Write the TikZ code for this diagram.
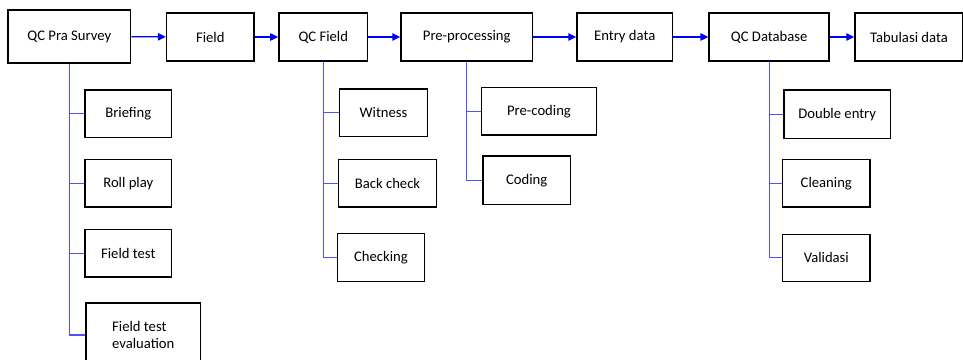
\documentclass[tikz,border=0pt]{standalone}
\usepackage{fontspec}
\setmainfont{Carlito}
\usepackage{xcolor}
\usetikzlibrary{arrows.meta}

\definecolor{flowblue}{RGB}{0,0,255}
\definecolor{branchblue}{RGB}{80,80,255}

\begin{document}
\begin{tikzpicture}[
    x=0.75pt, y=-0.75pt,
    stage/.style={draw, line width=1.1pt, inner sep=0pt, minimum height=36pt, font=\fontsize{11}{12.5}\selectfont},
    task/.style={draw, line width=1.1pt, inner sep=0pt, minimum height=35.5pt, font=\fontsize{11}{12.5}\selectfont},
    flow/.style={line width=1pt, flowblue, -{Triangle[length=6pt, width=5.5pt]}},
    branch/.style={line width=0.8pt, branchblue},
]
\clip (0,0) rectangle (963,360);

% Main stages
\node[stage, minimum width=92pt, minimum height=39.5pt] (pra) at (69.3, 36.5) {QC Pra Survey};
\node[stage, minimum width=65.5pt] (field) at (210.3, 37) {Field};
\node[stage, minimum width=66.5pt] (qcfield) at (323.3, 37) {QC Field};
\node[stage, minimum width=98.5pt] (prep) at (466.7, 37) {Pre-processing};
\node[stage, minimum width=71.5pt] (entry) at (624.7, 37) {Entry data};
\node[stage, minimum width=90pt] (qcdb) at (769.2, 37) {QC Database};
\node[stage, minimum width=81pt] (tabul) at (909, 37) {Tabulasi data};

% Tasks under QC Pra Survey
\node[task, minimum width=65pt] (briefing) at (128.3, 113.8) {Briefing};
\node[task, minimum width=65pt] (rollplay) at (128.3, 183.2) {Roll play};
\node[task, minimum width=65pt] (fieldtest) at (128.3, 253.2) {Field test};
\node[task, minimum width=86pt, minimum height=48pt, align=left] (fieldeval) at (143.3, 335) {Field test\\evaluation};

% Tasks under QC Field
\node[task, minimum width=65.7pt] (witness) at (383.5, 112.8) {Witness};
\node[task, minimum width=73.8pt] (backcheck) at (387.5, 183.2) {Back check};
\node[task, minimum width=65.5pt, minimum height=36pt] (checking) at (381, 257.7) {Checking};

% Tasks under Pre-processing
\node[task, minimum width=86pt] (precoding) at (539, 111.2) {Pre-coding};
\node[task, minimum width=65.5pt, minimum height=36.2pt] (coding) at (526.7, 180.2) {Coding};

% Tasks under QC Database
\node[task, minimum width=79.7pt, minimum height=36.2pt] (double) at (837.2, 114.2) {Double entry};
\node[task, minimum width=65.5pt] (cleaning) at (826.3, 183.2) {Cleaning};
\node[task, minimum width=65.5pt] (validasi) at (826.3, 257.9) {Validasi};

% Flow between stages
\draw[flow] (pra) -- (field);
\draw[flow] (field) -- (qcfield);
\draw[flow] (qcfield) -- (prep);
\draw[flow] (prep) -- (entry);
\draw[flow] (entry) -- (qcdb);
\draw[flow] (qcdb) -- (tabul);

% Branches to tasks
\draw[branch] (pra) |- (briefing);
\draw[branch] (pra) |- (rollplay);
\draw[branch] (pra) |- (fieldtest);
\draw[branch] (pra) |- (fieldeval);

\draw[branch] (qcfield) |- (witness);
\draw[branch] (qcfield) |- (backcheck);
\draw[branch] (qcfield) |- (checking);

\draw[branch] (prep) |- (precoding);
\draw[branch] (prep) |- (coding);

\draw[branch] (qcdb) |- (double);
\draw[branch] (qcdb) |- (cleaning);
\draw[branch] (qcdb) |- (validasi);
\end{tikzpicture}
\end{document}
